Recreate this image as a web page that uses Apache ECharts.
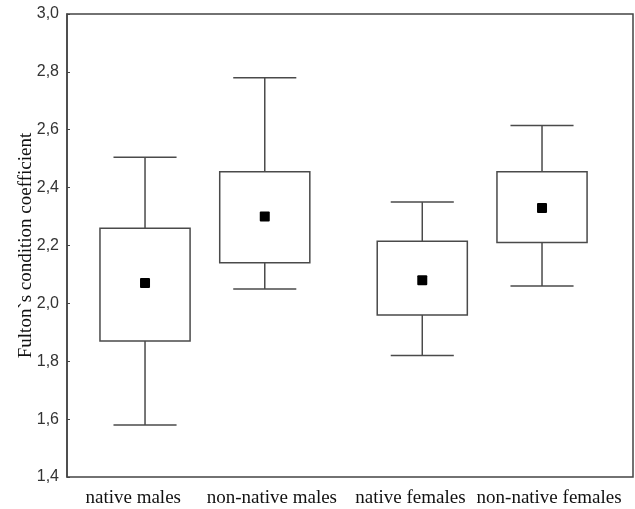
<!DOCTYPE html>
<html><head><meta charset="utf-8">
<script src="https://cdn.jsdelivr.net/npm/echarts@6/dist/echarts.min.js"></script>
<style>html,body{margin:0;padding:0;background:#fff}#c{width:635px;height:509px}</style>
</head><body><div id="c"></div>
<script>
const groupCategories = ['males', 'females'];
const boxLabels = ['native males', 'non-native males', 'native females', 'non-native females'];
const yTicks = [1.4, 1.6, 1.8, 2.0, 2.2, 2.4, 2.6, 2.8, 3.0];
// each row: [whisker low, box low, box high, whisker high, mean]
const nativeValues = [
  [1.58, 1.87, 2.26, 2.505, 2.07],
  [1.82, 1.96, 2.215, 2.35, 2.08]
];
const nonNativeValues = [
  [2.05, 2.14, 2.455, 2.78, 2.30],
  [2.06, 2.21, 2.455, 2.615, 2.33]
];

const LINE = '#4a4a4a';
function makeRender(offsetFrac) {
  return function (params, api) {
    const idx = api.value(0);
    const band = api.size([1, 0])[0];
    const cx = api.coord([idx, api.value(1)])[0] + offsetFrac * band;
    const y = k => api.coord([idx, api.value(k)])[1];
    const yLow = y(1), yQ1 = y(2), yQ3 = y(3), yHigh = y(4), yMean = y(5);
    const bw = band * 0.325, cw = bw * 0.7;
    const ls = { stroke: LINE, lineWidth: 1.5, fill: null };
    return {
      type: 'group', children: [
        { type: 'line', shape: { x1: cx, y1: yQ3, x2: cx, y2: yHigh }, style: ls },
        { type: 'line', shape: { x1: cx, y1: yQ1, x2: cx, y2: yLow }, style: ls },
        { type: 'line', shape: { x1: cx - cw / 2, y1: yHigh, x2: cx + cw / 2, y2: yHigh }, style: ls },
        { type: 'line', shape: { x1: cx - cw / 2, y1: yLow, x2: cx + cw / 2, y2: yLow }, style: ls },
        { type: 'rect', shape: { x: cx - bw / 2, y: yQ3, width: bw, height: yQ1 - yQ3 }, style: { fill: '#fff', stroke: LINE, lineWidth: 1.5 } },
        { type: 'rect', shape: { x: cx - 5, y: yMean - 5, width: 10, height: 10, r: 1 }, style: { fill: '#000' } }
      ]
    };
  };
}

const fmt = v => v.toFixed(1).replace('.', ',');
const chart = echarts.init(document.getElementById('c'), null, { renderer: 'canvas' });
chart.setOption({
  animation: false,
  backgroundColor: '#fff',
  grid: [
    { left: 67, right: 2, top: 14, bottom: 32, show: true, borderColor: '#444', borderWidth: 1.5, outerBoundsMode: 'none', containLabel: false },
    { left: 63.9, right: 16.6, top: 14, bottom: 32, show: false, outerBoundsMode: 'none', containLabel: false }
  ],
  xAxis: [
    { gridIndex: 1, type: 'category', data: groupCategories, show: false },
    {
      gridIndex: 1, type: 'category', data: boxLabels, position: 'bottom',
      axisLine: { show: false }, axisTick: { show: false }, splitLine: { show: false },
      axisLabel: { margin: 12, fontFamily: 'Liberation Serif', fontSize: 19, color: '#111', interval: 0 }
    },
    { gridIndex: 0, type: 'value', show: false, min: 0, max: 1 }
  ],
  yAxis: [
    {
      gridIndex: 0, type: 'value', min: yTicks[0], max: yTicks[yTicks.length - 1], interval: 0.2,
      axisLine: { show: true, lineStyle: { color: '#444', width: 1.5 } },
      axisTick: { show: true, inside: true, length: 3, lineStyle: { color: '#444' } },
      splitLine: { show: false },
      axisLabel: { margin: 8, fontFamily: 'Liberation Sans', fontSize: 16, color: '#333', formatter: fmt },
      name: 'Fulton`s condition coefficient', nameLocation: 'middle', nameRotate: 90, nameGap: 31,
      nameMoveOverlap: false,
      nameTextStyle: { fontFamily: 'Liberation Serif', fontSize: 19, color: '#111' }
    },
    { gridIndex: 1, type: 'value', min: yTicks[0], max: yTicks[yTicks.length - 1], show: false }
  ],
  series: [
    {
      name: 'native', type: 'custom', xAxisIndex: 0, yAxisIndex: 1,
      renderItem: makeRender(-0.2074),
      encode: { x: 0, y: [1, 2, 3, 4, 5] },
      data: nativeValues.map((v, i) => [i].concat(v))
    },
    {
      name: 'non-native', type: 'custom', xAxisIndex: 0, yAxisIndex: 1,
      renderItem: makeRender(0.2245),
      encode: { x: 0, y: [1, 2, 3, 4, 5] },
      data: nonNativeValues.map((v, i) => [i].concat(v))
    }
  ]
});
</script></body></html>
